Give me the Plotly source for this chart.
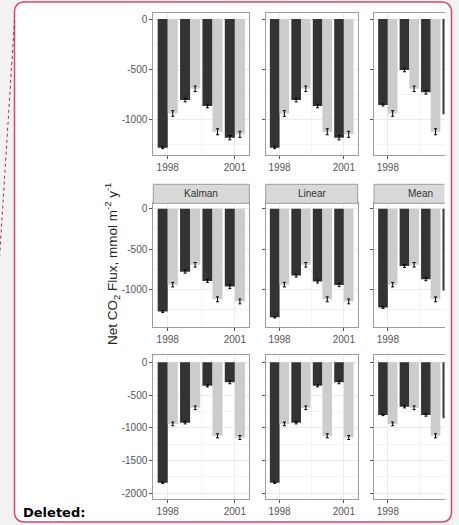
import plotly.graph_objects as go

# ---------------- data ----------------
years = [1998, 1999, 2000, 2001]
x_tick_vals = [1998, 2001]
x_tick_text = ["1998", "2001"]
y_ticks_short = [0, -500, -1000]
y_ticks_long = [0, -500, -1000, -1500, -2000]

observed = [-942, -696, -1124, -1150]          # light bars (same in every panel)
observed_err = [28, 28, 30, 30]

top_a = [-1283, -808, -867, -1183]
top_b = [-1283, -808, -867, -1183]
top_c = [-857, -508, -731, -950]
kalman = [-1276, -781, -896, -966]
linear = [-1346, -830, -904, -945]
mean = [-1226, -710, -875, -1016]
bottom_a = [-1842, -924, -358, -306]
bottom_b = [-1842, -924, -358, -306]
bottom_c = [-806, -679, -806, -857]
filled_err = [10, 18, 18, 22]

strip_labels = ["Kalman", "Linear", "Mean"]

panels = [[top_a, top_b, top_c], [kalman, linear, mean], [bottom_a, bottom_b, bottom_c]]

# ---------------- layout geometry (pixels) ----------------
W, H = 459, 525
def fx(p): return p / W
def fy(p): return 1 - p / H

col_px = [(153.3, 249.3), (265.7, 357.7), (374.0, 444.5)]
col_rng = [(1997.355, 2001.645), (1997.355, 2001.645), (1997.355, 2000.642)]
row_px = [(13.0, 155.0), (203.3, 327.3), (355.0, 499.3)]
row_rng = [(-1356, 60), (-1471, 67), (-2096, 112)]
row_ticks = [y_ticks_short, y_ticks_short, y_ticks_long]
row_minor = [[-250, -750, -1250], [-250, -750, -1250], [-250, -750, -1250, -1750]]

DARK = "#333333"
LIGHT = "#cccccc"
FRAME = "#9c9c9c"
FONT = "Liberation Sans"
BORDER = "#d9466b"

fig = go.Figure()
layout = {}
for r in range(3):
    for c in range(3):
        idx = r * 3 + c + 1
        xs = "" if idx == 1 else str(idx)
        fig.add_trace(go.Bar(
            x=years, y=panels[r][c], width=0.45, offset=-0.45,
            marker=dict(color=DARK, line=dict(width=0)),
            error_y=dict(type="data", array=filled_err, color="black", thickness=1, width=1.5),
            xaxis="x" + xs, yaxis="y" + xs, showlegend=False, hoverinfo="skip", cliponaxis=True))
        fig.add_trace(go.Bar(
            x=years, y=observed, width=0.45, offset=0.0,
            marker=dict(color=LIGHT, line=dict(width=0)),
            error_y=dict(type="data", array=observed_err, color="black", thickness=1, width=1.5),
            xaxis="x" + xs, yaxis="y" + xs, showlegend=False, hoverinfo="skip", cliponaxis=True))
        layout["xaxis" + xs] = dict(
            domain=[fx(col_px[c][0]), fx(col_px[c][1])], range=list(col_rng[c]),
            anchor="y" + xs, tickvals=x_tick_vals, ticktext=x_tick_text,
            ticks="outside", ticklen=3, tickcolor="#555", tickwidth=1,
            showline=True, mirror=True, linecolor=FRAME, linewidth=1,
            showgrid=True, gridcolor="#ebebeb", gridwidth=1, zeroline=False,
            minor=dict(tickvals=[1999.5], showgrid=True, gridcolor="#f3f3f3", gridwidth=0.6),
            tickfont=dict(family=FONT, size=10, color="#555"), fixedrange=True)
        layout["yaxis" + xs] = dict(
            domain=[fy(row_px[r][1]), fy(row_px[r][0])], range=list(row_rng[r]),
            anchor="x" + xs, tickvals=row_ticks[r], ticktext=[str(v) for v in row_ticks[r]],
            showticklabels=(c == 0),
            ticks="outside", ticklen=3, tickcolor="#555", tickwidth=1,
            showline=True, mirror=(c != 2), linecolor=FRAME, linewidth=1,
            showgrid=True, gridcolor="#ebebeb", gridwidth=1, zeroline=False,
            minor=dict(tickvals=row_minor[r], showgrid=True, gridcolor="#f3f3f3", gridwidth=0.6),
            tickfont=dict(family=FONT, size=10, color="#555"), fixedrange=True)

shapes = []
# white comment box fill (below)
L, R, T, B, rad = 14.5, 451.5, 2.0, 522.0, 9.0
k = 0.55
def P(x, y): return f"{fx(x):.5f},{fy(y):.5f}"
box_path = (
    "M " + P(L + rad, T) + " L " + P(R - rad, T) +
    " C " + P(R - rad + k * rad, T) + " " + P(R, T + rad - k * rad) + " " + P(R, T + rad) +
    " L " + P(R, B - rad) +
    " C " + P(R, B - rad + k * rad) + " " + P(R - rad + k * rad, B) + " " + P(R - rad, B) +
    " L " + P(L + rad, B) +
    " C " + P(L + rad - k * rad, B) + " " + P(L, B - rad + k * rad) + " " + P(L, B - rad) +
    " L " + P(L, T + rad) +
    " C " + P(L, T + rad - k * rad) + " " + P(L + rad - k * rad, T) + " " + P(L + rad, T) + " Z")
shapes.append(dict(type="path", path=box_path, xref="paper", yref="paper",
                   fillcolor="white", line=dict(width=0), layer="below"))

# strips for the middle row (right-hand one is cropped: no right edge)
s_top, s_bot = 184.3, 203.3
for c in range(3):
    x0, x1 = col_px[c]
    shapes.append(dict(type="rect", xref="paper", yref="paper", x0=fx(x0), x1=fx(x1),
                       y0=fy(s_bot), y1=fy(s_top), fillcolor="#d9d9d9",
                       line=dict(width=0), layer="above"))
    edges = [(x0, s_top, x1, s_top), (x0, s_bot, x1, s_bot), (x0, s_top, x0, s_bot)]
    if c != 2:
        edges.append((x1, s_top, x1, s_bot))
    for (a, b, cc, d) in edges:
        shapes.append(dict(type="line", xref="paper", yref="paper", x0=fx(a), y0=fy(b),
                           x1=fx(cc), y1=fy(d), line=dict(color=FRAME, width=1), layer="above"))

# box border
shapes.append(dict(type="path", path=box_path, xref="paper", yref="paper",
                   fillcolor="rgba(0,0,0,0)", line=dict(color=BORDER, width=1.5), layer="above"))
# dotted connector
shapes.append(dict(type="line", xref="paper", yref="paper", x0=fx(14.5), y0=fy(20),
                   x1=fx(-0.5), y1=fy(258), line=dict(color="#b8204c", width=1, dash="dot"),
                   layer="above"))

annotations = []
strip_centers = [201.3, 311.7, 420.0]
for c in range(3):
    annotations.append(dict(text=strip_labels[c], xref="paper", yref="paper",
                            x=fx(strip_centers[c]), y=fy(193.8), showarrow=False,
                            xanchor="center", yanchor="middle",
                            font=dict(family=FONT, size=10, color="#333")))
annotations.append(dict(text="Net CO<sub>2</sub> Flux, mmol m<sup>-2</sup> y<sup>-1</sup>",
                        xref="paper", yref="paper", x=fx(112), y=fy(264), textangle=-90,
                        showarrow=False, xanchor="center", yanchor="middle",
                        font=dict(family=FONT, size=13.5, color="#222")))
annotations.append(dict(text="<b>Deleted:</b>", xref="paper", yref="paper",
                        x=fx(21), y=fy(512), showarrow=False, xanchor="left", yanchor="middle",
                        font=dict(family="DejaVu Sans", size=13, color="black")))

fig.update_layout(width=W, height=H, margin=dict(l=0, r=0, t=0, b=0),
                  paper_bgcolor="#f2f2f2", plot_bgcolor="white", barmode="overlay",
                  shapes=shapes, annotations=annotations, **layout)

fig.write_html("out.html", config={"displayModeBar": False},
               post_script="document.body.style.margin='0';document.body.style.overflow='hidden';")
